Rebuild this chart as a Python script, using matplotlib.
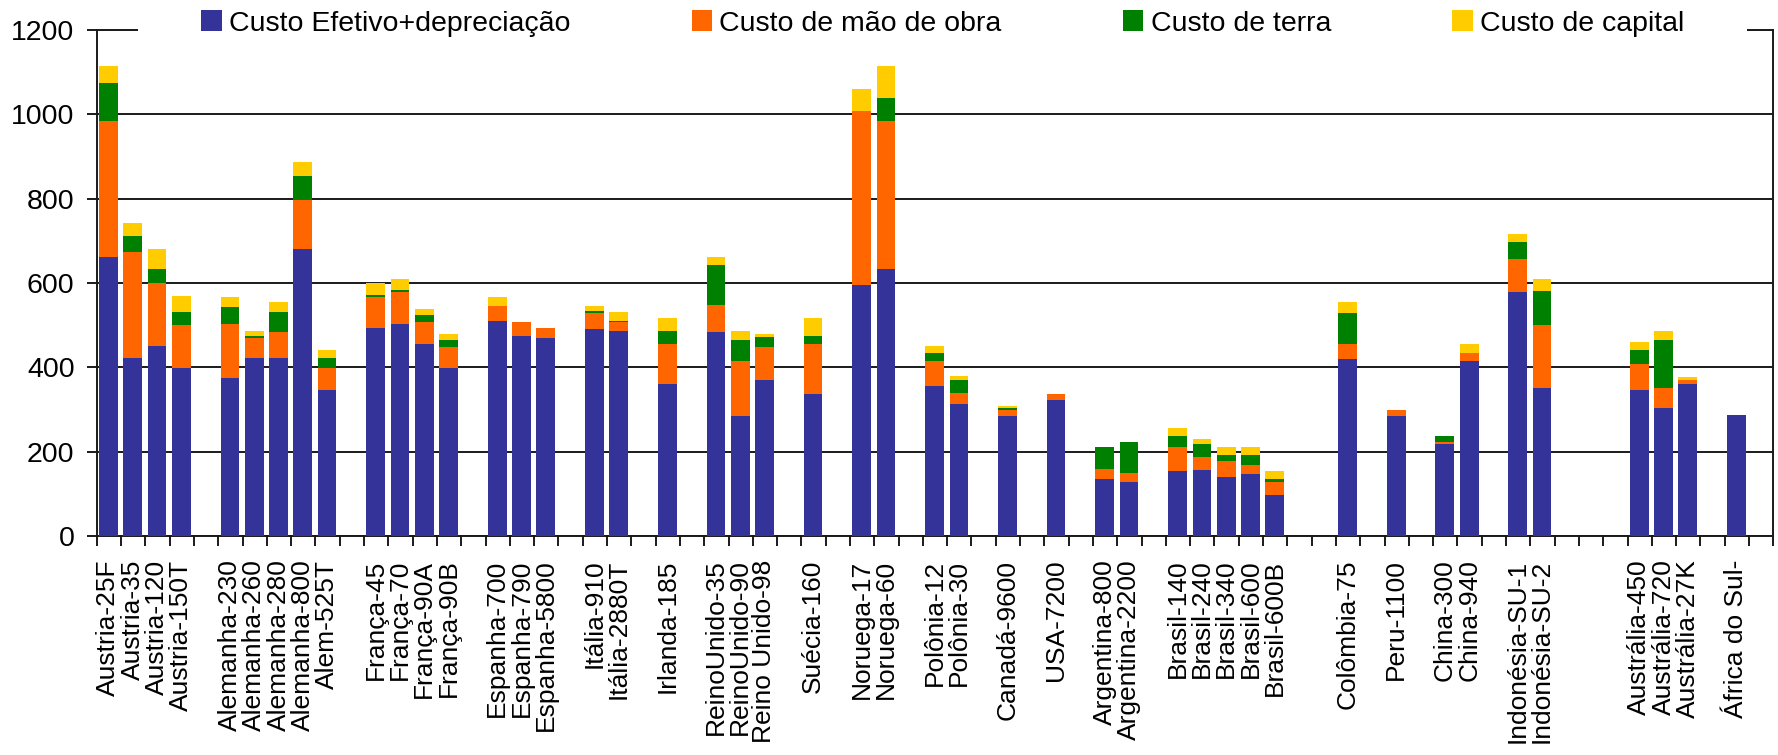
import matplotlib
matplotlib.use("Agg")
import matplotlib.pyplot as plt
import numpy as np

# ── Style ──────────────────────────────────────────────
LINE = "#1a1a1a"
plt.rcParams.update({
    "font.family": ["Liberation Sans", "DejaVu Sans"],
    "font.size": 20.5,
    "text.color": "black",
})

# ── Data (blank strings = empty gap categories) ────────
labels = [
    "Austria-25F", "Austria-35", "Austria-120", "Austria-150T", "",
    "Alemanha-230", "Alemanha-260", "Alemanha-280", "Alemanha-800", "Alem-525T", "",
    "França-45", "França-70", "França-90A", "França-90B", "",
    "Espanha-700", "Espanha-790", "Espanha-5800", "",
    "Itália-910", "Itália-2880T", "",
    "Irlanda-185", "",
    "ReinoUnido-35", "ReinoUnido-90", "Reino Unido-98", "",
    "Suécia-160", "",
    "Noruega-17", "Noruega-60", "",
    "Polônia-12", "Polônia-30", "",
    "Canadá-9600", "",
    "USA-7200", "",
    "Argentina-800", "Argentina-2200", "",
    "Brasil-140", "Brasil-240", "Brasil-340", "Brasil-600", "Brasil-600B", "", "",
    "Colômbia-75", "",
    "Peru-1100", "",
    "China-300", "China-940", "",
    "Indonésia-SU-1", "Indonésia-SU-2", "", "", "",
    "Austrália-450", "Austrália-720", "Austrália-27K", "",
    "África do Sul-", "",
]

custo_efetivo = [661, 421, 451, 398, 0,
                 375, 421, 421, 680, 346, 0,
                 493, 502, 456, 398, 0,
                 510, 474, 469, 0,
                 492, 487, 0,
                 360, 0,
                 484, 284, 370, 0,
                 337, 0,
                 596, 633, 0,
                 356, 314, 0,
                 284, 0,
                 323, 0,
                 134, 129, 0,
                 153, 157, 139, 148, 96, 0, 0,
                 420, 0,
                 284, 0,
                 219, 415, 0,
                 579, 351, 0, 0, 0,
                 346, 304, 360, 0,
                 288, 0]

mao_de_obra = [322, 253, 149, 103, 0,
               127, 49, 63, 117, 52, 0,
               74, 77, 51, 49, 0,
               36, 33, 24, 0,
               36, 20, 0,
               96, 0,
               63, 131, 77, 0,
               118, 0,
               411, 350, 0,
               59, 24, 0,
               14, 0,
               14, 0,
               24, 20, 0,
               58, 31, 38, 20, 33, 0, 0,
               35, 0,
               14, 0,
               5, 20, 0,
               77, 150, 0, 0, 0,
               61, 47, 9, 0,
               0, 0]

custo_terra = [91, 37, 34, 31, 0,
               41, 5, 46, 56, 24, 0,
               4, 4, 17, 18, 0,
               0, 0, 0, 0,
               5, 4, 0,
               31, 0,
               95, 49, 24, 0,
               19, 0,
               0, 55, 0,
               20, 32, 0,
               6, 0,
               0, 0,
               52, 74, 0,
               27, 31, 14, 23, 5, 0, 0,
               73, 0,
               0, 0,
               14, 0, 0,
               41, 79, 0, 0, 0,
               33, 113, 2, 0,
               0, 0]

custo_capital = [41, 31, 47, 37, 0,
                 23, 12, 26, 34, 19, 0,
                 30, 27, 14, 14, 0,
                 20, 0, 0, 0,
                 13, 19, 0,
                 29, 0,
                 19, 23, 8, 0,
                 42, 0,
                 54, 76, 0,
                 15, 9, 0,
                 5, 0,
                 0, 0,
                 0, 0, 0,
                 19, 10, 19, 20, 19, 0, 0,
                 27, 0,
                 0, 0,
                 0, 20, 0,
                 19, 30, 0, 0, 0,
                 20, 23, 7, 0,
                 0, 0]

series = [
    ("Custo Efetivo+depreciação", custo_efetivo, "#333399"),
    ("Custo de mão de obra", mao_de_obra, "#FF6600"),
    ("Custo de terra", custo_terra, "#008000"),
    ("Custo de capital", custo_capital, "#FFCC00"),
]

# ── Plot ───────────────────────────────────────────────
fig = plt.figure(figsize=(17.78, 7.55), dpi=100)
ax = fig.add_axes([0.0544, 0.2901, 0.9430, 0.6702])

x = np.arange(len(labels))
bottom = np.zeros(len(x))
for name, vals, color in series:
    vals = np.array(vals, dtype=float)
    ax.bar(x, vals, width=0.77, bottom=bottom, color=color, label=name,
           linewidth=0, zorder=6)
    bottom += vals

ax.set_xlim(-0.48, len(x) - 0.48)
ax.set_ylim(0, 1200)
ax.set_yticks(np.arange(0, 1201, 200))

# category boundaries get tick marks, labels sit on the bars
ax.set_xticks(np.append(x, len(x)) - 0.48)
ax.set_xticklabels([])
ax.set_xticks(x, minor=True)
ax.set_xticklabels(labels, minor=True, rotation=90, fontsize=19)

ax.tick_params(axis="x", which="major", length=7.5, width=1.4, color=LINE)
ax.tick_params(axis="x", which="minor", length=0, pad=17)
ax.tick_params(axis="y", length=7, width=1.4, color=LINE, pad=9)

ax.yaxis.grid(True, color=LINE, linewidth=1.4)
ax.set_axisbelow(True)
for sp in ax.spines.values():
    sp.set_color(LINE)
    sp.set_linewidth(1.4)

# white legend box masks the middle of the top frame, like the original
leg = ax.legend(ncol=4, loc="center left", bbox_to_anchor=(0.0249, 1.013),
                frameon=True, fancybox=False, framealpha=1, borderpad=2.2,
                borderaxespad=0, handlelength=0.73, handleheight=0.76,
                handletextpad=0.25, columnspacing=4.25, fontsize=20.5)
leg.get_frame().set_facecolor("white")
leg.get_frame().set_linewidth(0)
leg.set_zorder(5)

fig.savefig("out.png", dpi=100)
